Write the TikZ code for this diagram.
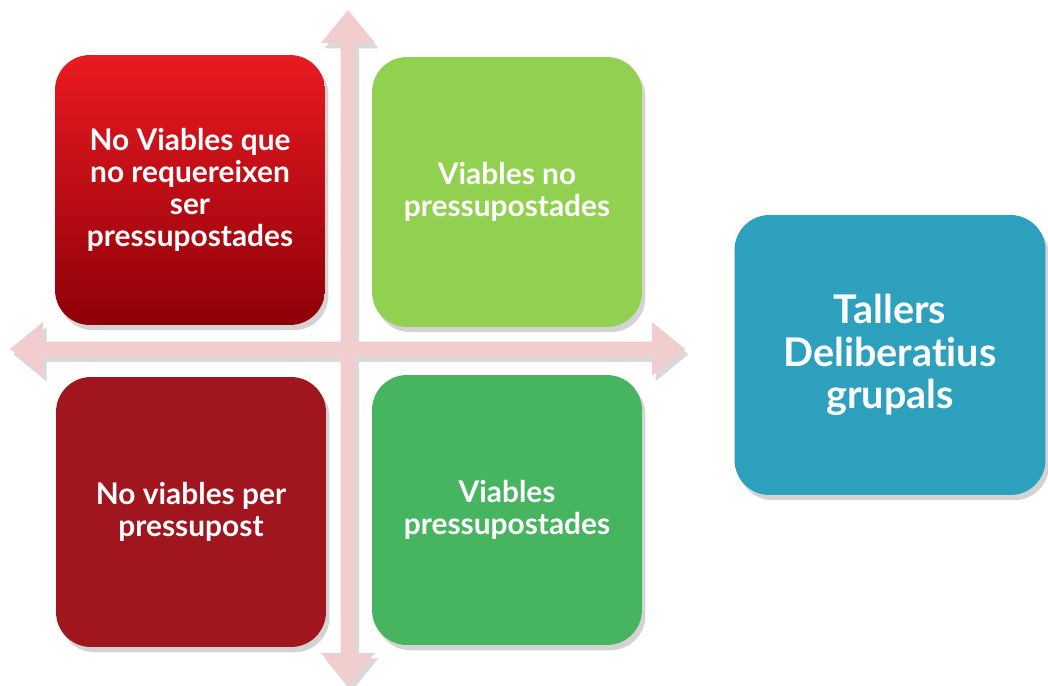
\documentclass[tikz,border=0pt]{standalone}
\usepackage{fontspec}
\setmainfont{Lato}[Ligatures={NoCommon,NoRare}]
\usepackage{xcolor}
\usetikzlibrary{shadows,positioning}

\definecolor{redtop}{HTML}{EA1A22}
\definecolor{redbottom}{HTML}{8E0008}
\definecolor{lightgreen}{HTML}{92D050}
\definecolor{darkred}{HTML}{A1151E}
\definecolor{midgreen}{HTML}{47B460}
\definecolor{tealbox}{HTML}{2DA0BE}
\definecolor{crosspink}{HTML}{F2CDCD}

\begin{document}
\begin{tikzpicture}[x=0.02cm,y=-0.02cm,
    quad/.style={rounded corners=0.7cm,minimum width=5.4cm,minimum height=5.4cm,
        align=center,text=white,font=\bfseries\fontsize{17}{18.3}\selectfont,
        drop shadow={shadow xshift=2pt,shadow yshift=-3pt,opacity=0.35}},
    crossarrow/.style={fill=crosspink,draw=none,
        drop shadow={shadow xshift=2pt,shadow yshift=-3pt,opacity=0.3}}]
    \useasboundingbox (0,0) rectangle (1048,686);

    % Cross behind the quadrants
    \fill[crossarrow] (348,10) -- (375,43) -- (355.5,43) -- (355.5,341.5) -- (652,341.5)
        -- (652,322) -- (685,349) -- (652,376) -- (652,356.5) -- (355.5,356.5)
        -- (355.5,653) -- (375,653) -- (348,686) -- (321,653) -- (340.5,653)
        -- (340.5,356.5) -- (43,356.5) -- (43,376) -- (10,349) -- (43,322)
        -- (43,341.5) -- (340.5,341.5) -- (340.5,43) -- (321,43) -- cycle;

    % Quadrants
    \node[quad,top color=redtop,bottom color=redbottom] (noviables) at (190,190)
        {No Viables que\\no requereixen\\ser\\pressupostades};
    \node[quad,fill=lightgreen] (viablesno) at (507,192)
        {Viables no\\pressupostades};
    \node[quad,fill=darkred] (nopress) at (191,512)
        {No viables per\\pressupost};
    \node[quad,fill=midgreen] (viables) at (507,510)
        {Viables\\pressupostades};

    % Right box
    \node[quad,fill=tealbox,minimum width=6.22cm,minimum height=5.6cm,
        font=\bfseries\fontsize{22.5}{24}\selectfont] (tallers) at (890,355)
        {Tallers\\Deliberatius\\grupals};
\end{tikzpicture}
\end{document}
